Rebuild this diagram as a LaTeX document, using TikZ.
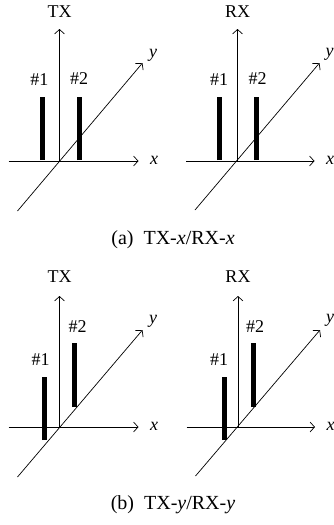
\documentclass[tikz,border=0pt]{standalone}
\usepackage{fontspec}
\setmainfont{Liberation Serif}
\usetikzlibrary{arrows.meta}
\begin{document}
\begin{tikzpicture}[x=1pt,y=-1pt,
  axis/.style={line width=0.7pt,-{Straight Barb[length=4.5pt,width=10pt,line width=0.7pt]}},
  antenna/.style={line width=5pt},
  lbl/.style={font=\fontsize{18}{21}\selectfont,inner sep=0pt},
  captext/.style={font=\fontsize{20}{24}\selectfont,inner sep=0pt}]
\useasboundingbox (0,0) rectangle (334,525);

% ---------- (a) TX ----------
\begin{scope}[shift={(59.5,161)}]
  \coordinate (aO) at (0,0);
  \coordinate (aXl) at (-51,0);   \coordinate (aXr) at (79,0);
  \coordinate (aYl) at (-42,50);  \coordinate (aYr) at (83,-98);
  \coordinate (aZt) at (0,-132);
  \draw[axis] (aXl) -- (aXr);
  \draw[axis] (aYl) -- (aYr);
  \draw[axis] (aO) -- (aZt);
  \coordinate (aB1b) at (-17.5,-1); \coordinate (aB1t) at (-17.5,-64);
  \coordinate (aB2b) at (19.5,-1);  \coordinate (aB2t) at (19.5,-64);
  \draw[antenna] (aB1b) -- (aB1t);
  \draw[antenna] (aB2b) -- (aB2t);
  \node[lbl] (aTX) at (0,-149) {TX};
  \node[lbl] (a1) at (-20,-81) {\#1};
  \node[lbl] (a2) at (19.5,-82) {\#2};
  \node[lbl] (ax) at (94.5,-1) {\textit{x}};
  \node[lbl] (ay) at (93.5,-106) {\textit{y}};
\end{scope}

% ---------- (a) RX ----------
\begin{scope}[shift={(237.5,161)}]
  \coordinate (bO) at (0,0);
  \coordinate (bXl) at (-51.5,0); \coordinate (bXr) at (77,0);
  \coordinate (bYl) at (-42.5,49); \coordinate (bYr) at (82,-98);
  \coordinate (bZt) at (0,-132);
  \draw[axis] (bXl) -- (bXr);
  \draw[axis] (bYl) -- (bYr);
  \draw[axis] (bO) -- (bZt);
  \coordinate (bB1b) at (-18.5,-1); \coordinate (bB1t) at (-18.5,-64);
  \coordinate (bB2b) at (18.5,-1);  \coordinate (bB2t) at (18.5,-64);
  \draw[antenna] (bB1b) -- (bB1t);
  \draw[antenna] (bB2b) -- (bB2t);
  \node[lbl] (bRX) at (0,-149) {RX};
  \node[lbl] (b1) at (-18.5,-81) {\#1};
  \node[lbl] (b2) at (20,-82) {\#2};
  \node[lbl] (bx) at (92.5,-1) {\textit{x}};
  \node[lbl] (by) at (92,-107) {\textit{y}};
\end{scope}

\node[captext] (capa) at (173,240) {(a)\hspace{0.5em}TX-\textit{x}/RX-\textit{x}};

% ---------- (b) TX ----------
\begin{scope}[shift={(59.5,427)}]
  \coordinate (cO) at (0,0);
  \coordinate (cXl) at (-51,0);   \coordinate (cXr) at (79,0);
  \coordinate (cYl) at (-42,50);  \coordinate (cYr) at (83,-97);
  \coordinate (cZt) at (0,-131);
  \draw[axis] (cXl) -- (cXr);
  \draw[axis] (cYl) -- (cYr);
  \draw[axis] (cO) -- (cZt);
  \coordinate (cB1b) at (-15,13);  \coordinate (cB1t) at (-15,-50);
  \coordinate (cB2b) at (14.5,-20); \coordinate (cB2t) at (14.5,-84);
  \draw[antenna] (cB1b) -- (cB1t);
  \draw[antenna] (cB2b) -- (cB2t);
  \node[lbl] (cTX) at (0,-150) {TX};
  \node[lbl] (c1) at (-19,-67) {\#1};
  \node[lbl] (c2) at (18,-100) {\#2};
  \node[lbl] (cx) at (94.5,-1) {\textit{x}};
  \node[lbl] (cy) at (93.5,-106) {\textit{y}};
\end{scope}

% ---------- (b) RX ----------
\begin{scope}[shift={(238,427)}]
  \coordinate (dO) at (0,0);
  \coordinate (dXl) at (-51.5,0); \coordinate (dXr) at (77,0);
  \coordinate (dYl) at (-42.5,49); \coordinate (dYr) at (82,-97);
  \coordinate (dZt) at (0,-131);
  \draw[axis] (dXl) -- (dXr);
  \draw[axis] (dYl) -- (dYr);
  \draw[axis] (dO) -- (dZt);
  \coordinate (dB1b) at (-14,13);  \coordinate (dB1t) at (-14,-50);
  \coordinate (dB2b) at (15,-20);  \coordinate (dB2t) at (15,-84);
  \draw[antenna] (dB1b) -- (dB1t);
  \draw[antenna] (dB2b) -- (dB2t);
  \node[lbl] (dRX) at (0,-150) {RX};
  \node[lbl] (d1) at (-19,-67) {\#1};
  \node[lbl] (d2) at (17,-100) {\#2};
  \node[lbl] (dx) at (92.5,-1) {\textit{x}};
  \node[lbl] (dy) at (92,-107) {\textit{y}};
\end{scope}

\node[captext] (capb) at (173,505) {(b)\hspace{0.5em}TX-\textit{y}/RX-\textit{y}};
\end{tikzpicture}
\end{document}
